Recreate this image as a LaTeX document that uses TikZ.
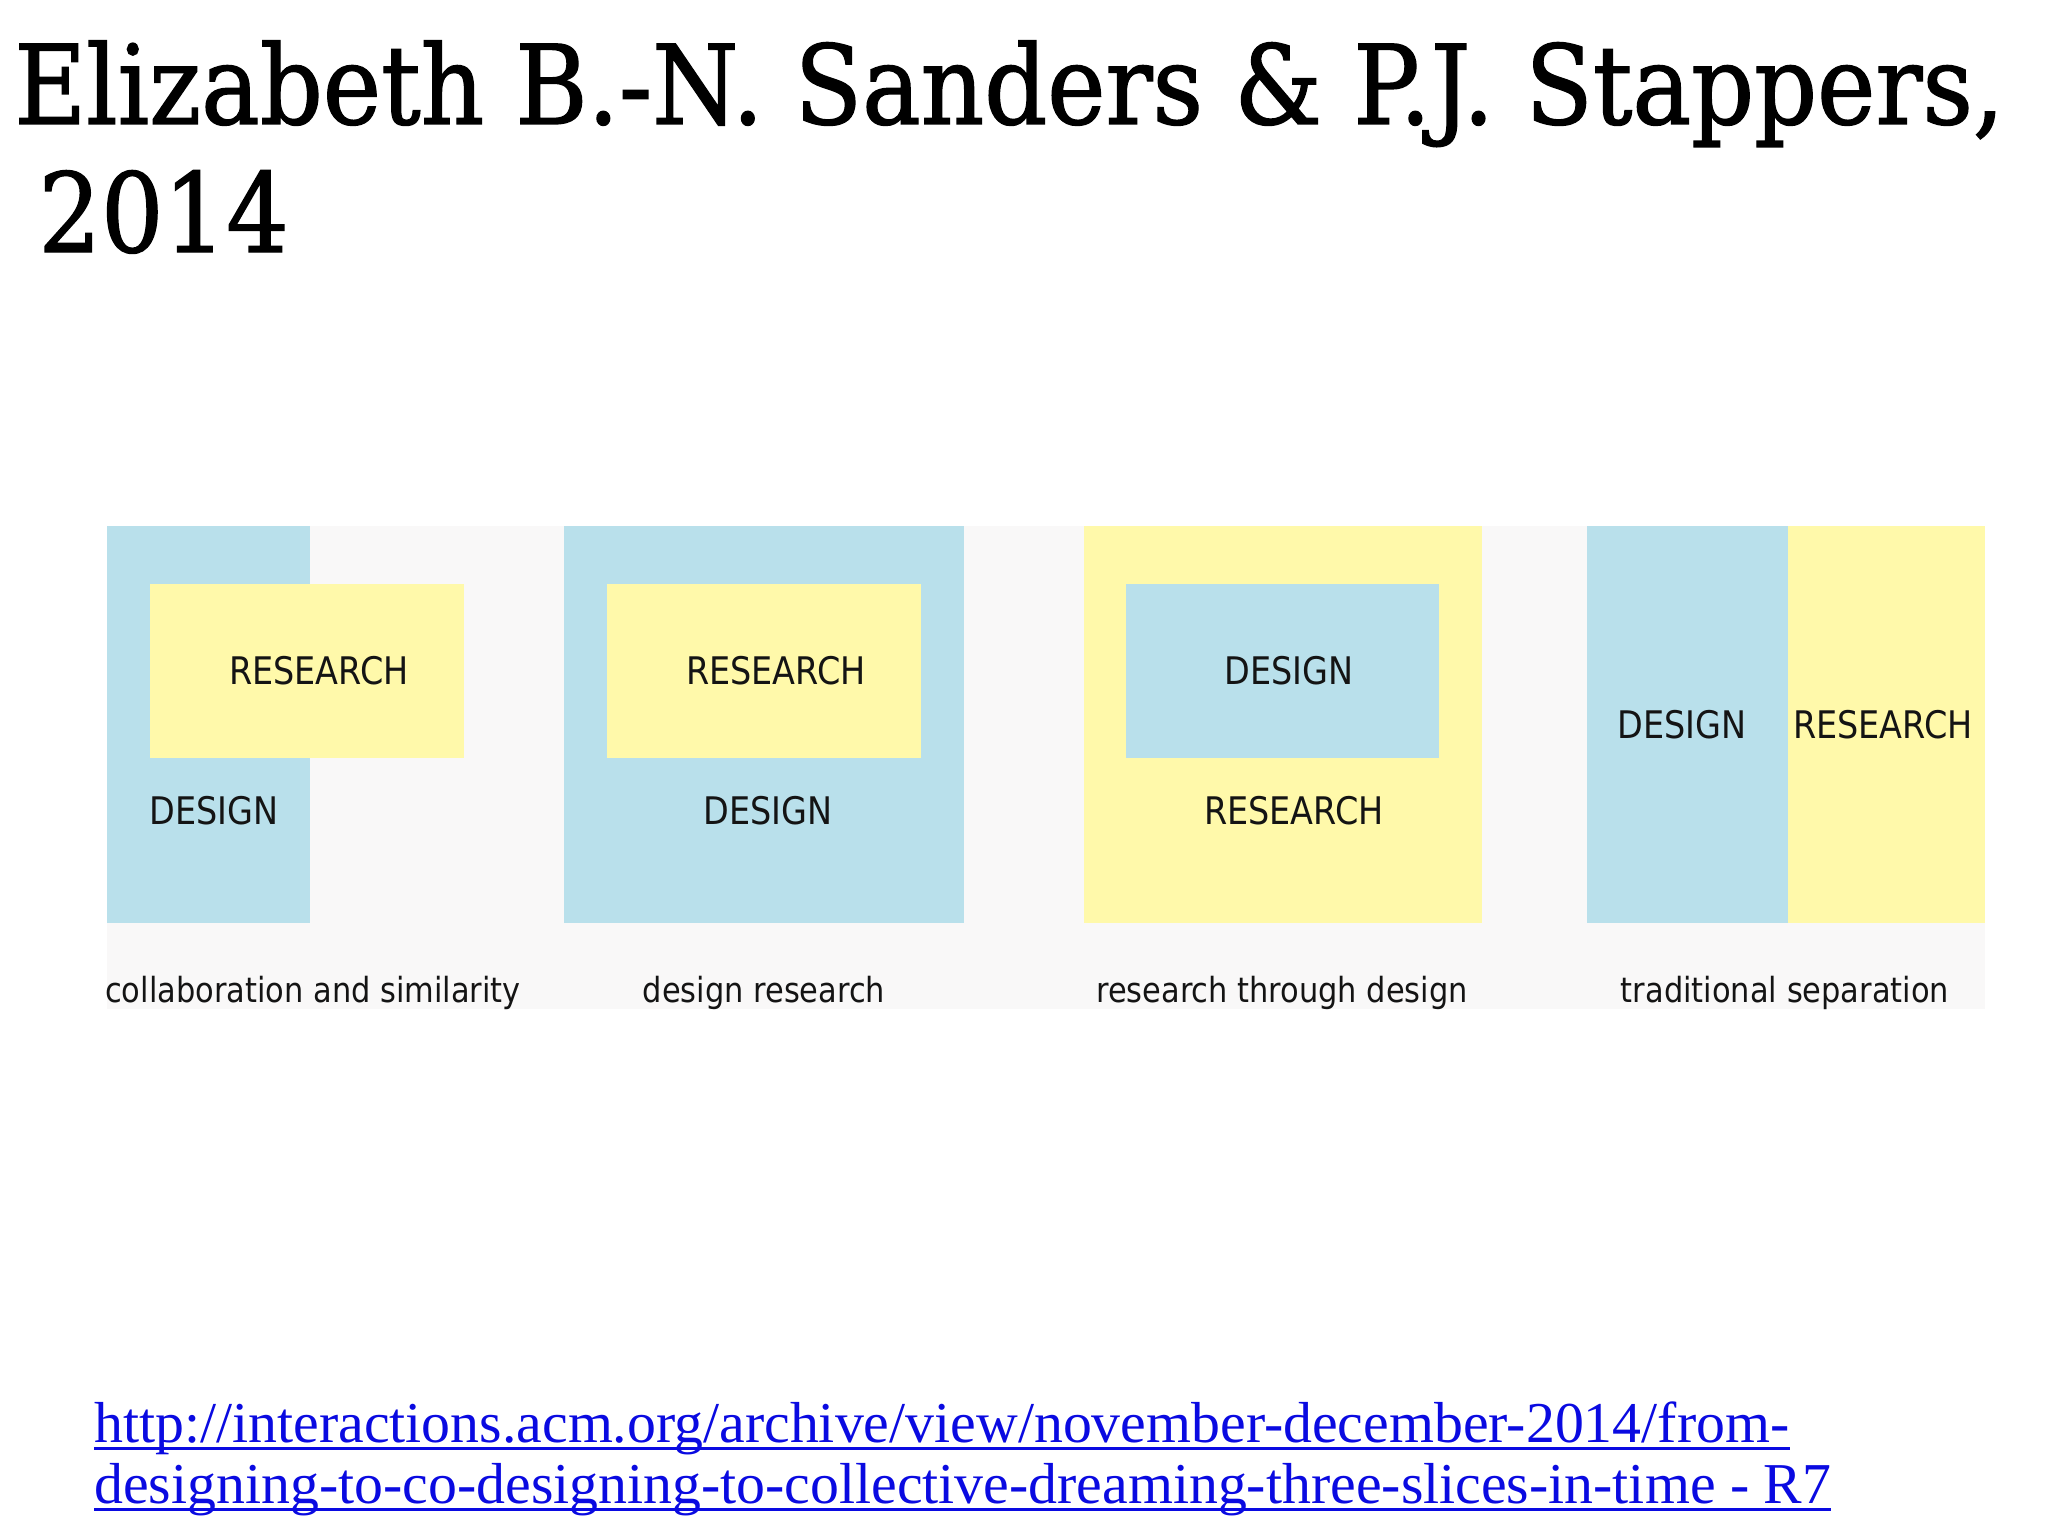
\documentclass[tikz,border=0pt]{standalone}
\usepackage{fontspec}
\setmainfont{Liberation Serif}
\newfontfamily\titlefont{DejaVu Serif}[FakeStretch=0.895,FakeBold=1.2]
\newfontfamily\panelfont{DejaVu Sans}[FakeStretch=0.88]
\definecolor{designblue}{RGB}{185,224,235}
\definecolor{researchyellow}{RGB}{255,249,170}
\definecolor{panelgrey}{RGB}{249,248,248}
\definecolor{linkblue}{RGB}{10,10,225}
\definecolor{inkgrey}{RGB}{20,20,20}

\begin{document}
\begin{tikzpicture}[x=0.5pt,y=-0.5pt,
  design box/.style={fill=designblue},
  research box/.style={fill=researchyellow},
  box label/.style={font=\panelfont\fontsize{19}{22}\selectfont,text=inkgrey,inner sep=0pt},
  caption/.style={font=\panelfont\fontsize{17.3}{20}\selectfont,text=inkgrey,inner sep=0pt,anchor=base},
  title/.style={font=\titlefont\fontsize{55}{60}\selectfont,inner sep=0pt,anchor=base west},
  link/.style={font=\fontsize{28.9}{30}\selectfont,text=linkblue,inner sep=0pt,anchor=base west},
  underline/.style={draw=linkblue,line width=1.5pt}]
  \useasboundingbox (0,0) rectangle (2048,1536);
  % heading
  \node[title] (author) at (14,124) {Elizabeth B.-N. Sanders \& P.J. Stappers,};
  \node[title] (year)   at (38,252) {2014};
  % panel background
  \fill[panelgrey] (107,526) rectangle (1985,1009);
  % collaboration and similarity
  \fill[design box]   (107,526) rectangle (310,923);
  \fill[research box] (150,584) rectangle (464,758);
  \node[box label] (research1) at (319,671) {RESEARCH};
  \node[box label] (design1)   at (214,811) {DESIGN};
  % design research
  \fill[design box]   (564,526) rectangle (964,923);
  \fill[research box] (607,584) rectangle (921,758);
  \node[box label] (research2) at (776,671) {RESEARCH};
  \node[box label] (design2)   at (768,811) {DESIGN};
  % research through design
  \fill[research box] (1084,526) rectangle (1482,923);
  \fill[design box]   (1126,584) rectangle (1439,758);
  \node[box label] (design3)   at (1289,671) {DESIGN};
  \node[box label] (research3) at (1294,811) {RESEARCH};
  % traditional separation
  \fill[design box]   (1587,526) rectangle (1788,923);
  \fill[research box] (1788,526) rectangle (1985,923);
  \node[box label] (design4)   at (1682,725) {DESIGN};
  \node[box label] (research4) at (1883,725) {RESEARCH};
  % captions
  \node[caption] (cap1) at (313,1002)  {collaboration and similarity};
  \node[caption] (cap2) at (764,1002)  {design research};
  \node[caption] (cap3) at (1282,1002) {research through design};
  \node[caption] (cap4) at (1785,1002) {traditional separation};
  % source link
  \node[link] (url1) at (94,1442) {http://interactions.acm.org/archive/view/november-december-2014/from-};
  \node[link] (url2) at (94,1503) {designing-to-co-designing-to-collective-dreaming-three-slices-in-time - R7};
  \draw[underline] ([yshift=-3pt]url1.base west) -- ([yshift=-3pt]url1.base east);
  \draw[underline] ([yshift=-3pt]url2.base west) -- ([yshift=-3pt]url2.base east);
\end{tikzpicture}
\end{document}
